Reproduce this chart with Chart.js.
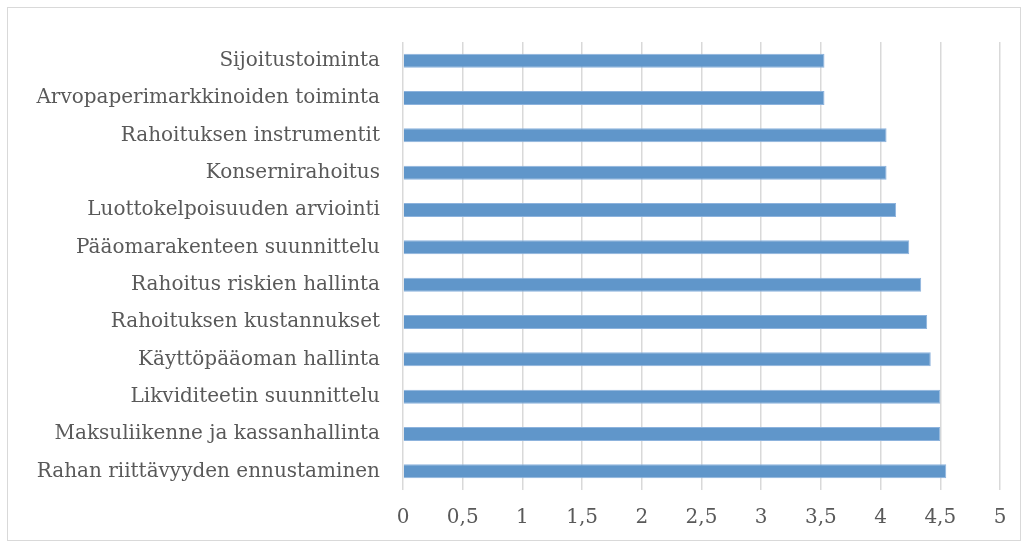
<!DOCTYPE html>
<html>
<head>
<meta charset="utf-8">
<script src="https://cdn.jsdelivr.net/npm/chart.js@4"></script>
<style>
  html, body { margin: 0; padding: 0; background: #fff; }
  #wrap { position: relative; width: 1029px; height: 549px; }
</style>
</head>
<body>
<div id="wrap"><canvas id="chart"></canvas></div>
<script>
// categories, top to bottom
const categories = [
    'Sijoitustoiminta',
    'Arvopaperimarkkinoiden toiminta',
    'Rahoituksen instrumentit',
    'Konsernirahoitus',
    'Luottokelpoisuuden arviointi',
    'Pääomarakenteen suunnittelu',
    'Rahoitus riskien hallinta',
    'Rahoituksen kustannukset',
    'Käyttöpääoman hallinta',
    'Likviditeetin suunnittelu',
    'Maksuliikenne ja kassanhallinta',
    'Rahan riittävyyden ennustaminen'
];
const values = [3.53, 3.53, 4.05, 4.05, 4.13, 4.24, 4.34, 4.39, 4.42, 4.5, 4.5, 4.55];
const xTickLabels = ['0', '0,5', '1', '1,5', '2', '2,5', '3', '3,5', '4', '4,5', '5'];

const textColor = '#595959';
const fontFamily = '"DejaVu Serif", "Liberation Serif", serif';

// light frame round the whole chart
const frame = {
    id: 'frame',
    beforeDraw(chart) {
        const c = chart.ctx;
        c.save();
        c.strokeStyle = '#d9d9d9';
        c.lineWidth = 1;
        c.strokeRect(7.5, 7.5, chart.width - 16, chart.height - 16);
        c.restore();
    }
};

const ctx = document.getElementById('chart').getContext('2d');
const chart = new Chart(ctx, {
    type: 'bar',
    data: {
        labels: categories,
        datasets: [{
            data: values,
            backgroundColor: '#6096CA',
            borderColor: '#8DB3DD',
            borderWidth: 1,
            categoryPercentage: 1,
            barPercentage: 0.375
        }]
    },
    options: {
        indexAxis: 'y',
        responsive: true,
        maintainAspectRatio: false,
        animation: false,
        layout: { padding: { top: 42, right: 29, bottom: 8, left: 0 } },
        plugins: { legend: { display: false }, tooltip: { enabled: false } },
        scales: {
            x: {
                min: 0,
                max: 5,
                ticks: {
                    stepSize: 0.5,
                    padding: 16,
                    color: textColor,
                    font: { family: fontFamily, size: 20 },
                    callback: (v, i) => xTickLabels[i]
                },
                grid: { color: '#d9d9d9', lineWidth: 1.5, drawTicks: false },
                border: { display: false },
                afterFit: s => { s.height = 51; }
            },
            y: {
                ticks: {
                    padding: 15,
                    color: textColor,
                    font: { family: fontFamily, size: 20 }
                },
                grid: { display: false },
                border: { display: false },
                afterFit: s => { s.width = 403; }
            }
        }
    },
    plugins: [frame]
});
</script>
</body>
</html>
